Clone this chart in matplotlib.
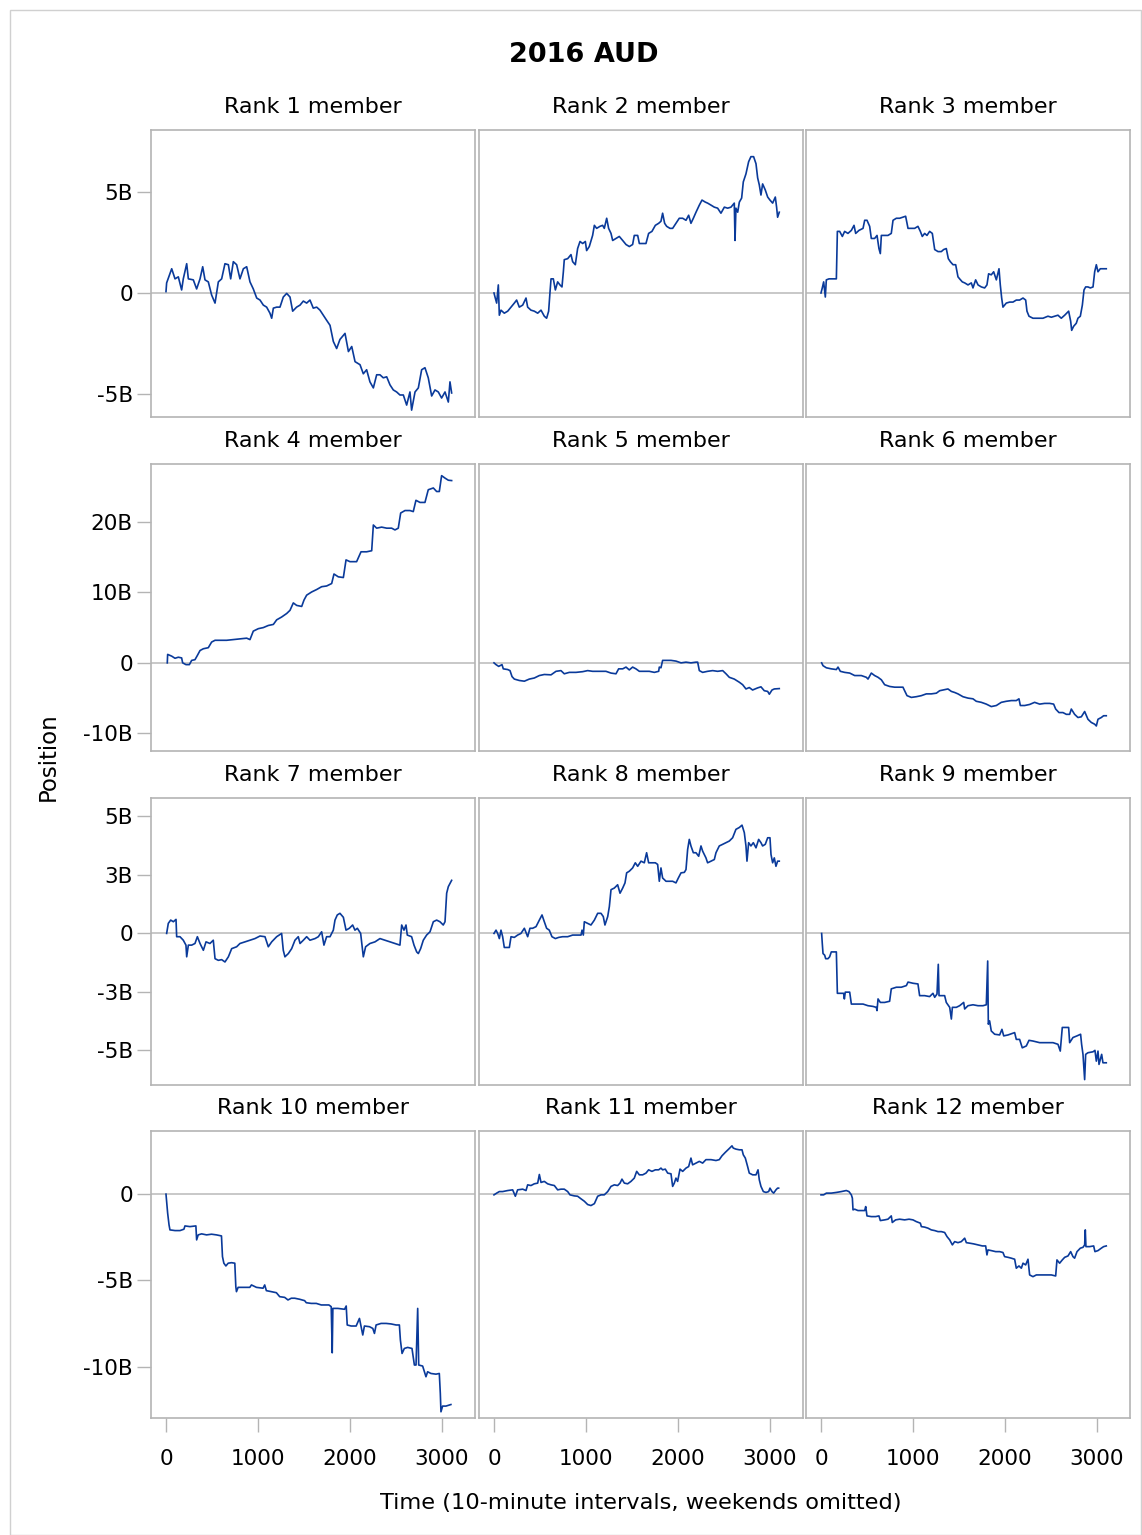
import matplotlib
matplotlib.use("Agg")
import matplotlib.pyplot as plt
from matplotlib.patches import Rectangle

plt.rcParams['font.family'] = ['DejaVu Sans']

title = "2016 AUD"
xlabel = "Time (10-minute intervals, weekends omitted)"
ylabel = "Position"
panel_titles = [f"Rank {i} member" for i in range(1, 13)]
x_ticks = [0, 1000, 2000, 3000]
x_tick_labels = ["0", "1000", "2000", "3000"]

row_yticks = [[-5, 0, 5], [-10, 0, 10, 20], [-5, -2.5, 0, 2.5, 5], [-10, -5, 0]]
row_ytick_labels = [["-5B", "0", "5B"], ["-10B", "0", "10B", "20B"],
                    ["-5B", "-3B", "0", "3B", "5B"], ["-10B", "-5B", "0"]]
row_ylims = [(-6.14, 8.07), (-12.5, 28.2), (-6.48, 5.79), (-12.97, 3.66)]
xlim = (-163, 3359)

# Positions in billions, time in 10-minute intervals
r1_t = [0, 7, 62, 98, 134, 170, 188, 225, 243, 297, 333, 370, 399, 424, 460, 496, 533, 569, 605, 641, 678, 703, 732, 768, 804, 841, 877, 913, 949, 986, 1022, 1058, 1094, 1130, 1149, 1167, 1203, 1239, 1275, 1312, 1348, 1377, 1420, 1457, 1493, 1529, 1565, 1601, 1638, 1674, 1710, 1746, 1783, 1819, 1855, 1891, 1946, 1983, 2019, 2055, 2109, 2145, 2181, 2217, 2254, 2290, 2326, 2362, 2399, 2435, 2471, 2507, 2543, 2580, 2616, 2652, 2670, 2707, 2743, 2779, 2815, 2851, 2888, 2924, 2960, 2996, 3033, 3069, 3087, 3105]
r1_v = [0.07, 0.5, 1.2, 0.7, 0.8, 0.15, 0.7, 1.45, 0.7, 0.65, 0.2, 0.7, 1.3, 0.65, 0.55, -0.1, -0.5, 0.55, 0.7, 1.45, 1.4, 0.7, 1.55, 1.4, 0.7, 1.2, 1.3, 0.55, 0.2, -0.25, -0.35, -0.6, -0.7, -1.0, -1.25, -0.75, -0.7, -0.7, -0.2, -0.02, -0.2, -0.9, -0.7, -0.6, -0.4, -0.5, -0.35, -0.75, -0.7, -0.85, -1.1, -1.35, -1.6, -2.4, -2.75, -2.3, -2.0, -2.9, -2.65, -3.4, -3.55, -4.0, -3.8, -4.4, -4.7, -4.05, -4.05, -4.2, -4.15, -4.55, -4.8, -4.9, -5.05, -5.05, -5.55, -4.9, -5.8, -4.9, -4.7, -3.8, -3.7, -4.2, -5.1, -4.8, -4.9, -5.2, -4.9, -5.4, -4.4, -4.95]

r2_t = [0, 14, 29, 47, 58, 76, 112, 149, 185, 221, 246, 275, 312, 348, 366, 402, 438, 475, 511, 547, 572, 594, 609, 620, 645, 667, 692, 717, 739, 754, 764, 801, 837, 855, 884, 909, 935, 964, 993, 1007, 1036, 1072, 1091, 1116, 1152, 1181, 1199, 1225, 1246, 1272, 1290, 1326, 1362, 1399, 1435, 1471, 1507, 1525, 1562, 1580, 1616, 1652, 1681, 1717, 1754, 1790, 1815, 1833, 1855, 1877, 1913, 1942, 1978, 2014, 2051, 2087, 2116, 2141, 2167, 2196, 2232, 2261, 2297, 2322, 2359, 2395, 2431, 2467, 2504, 2540, 2576, 2612, 2620, 2630, 2649, 2667, 2692, 2710, 2739, 2768, 2793, 2822, 2848, 2866, 2884, 2902, 2920, 2949, 2975, 3000, 3029, 3058, 3072, 3083, 3101]
r2_v = [0, -0.25, -0.5, 0.4, -1.1, -0.85, -1.0, -0.9, -0.7, -0.5, -0.35, -0.7, -0.6, -0.25, -0.7, -0.85, -0.9, -1.0, -0.85, -1.15, -1.25, -0.9, 0.05, 0.7, 0.7, 0.15, 0.55, 0.4, 0.3, 1.05, 1.65, 1.7, 1.9, 1.55, 1.4, 2.2, 2.55, 2.45, 2.55, 2.1, 2.3, 2.85, 3.35, 3.2, 3.3, 3.35, 3.2, 3.7, 3.2, 2.95, 2.6, 2.7, 2.8, 2.6, 2.4, 2.3, 2.4, 2.85, 2.85, 2.45, 2.45, 2.45, 2.95, 3.05, 3.35, 3.45, 3.55, 3.95, 3.45, 3.3, 3.2, 3.2, 3.45, 3.7, 3.7, 3.6, 3.85, 3.45, 3.7, 4.0, 4.35, 4.6, 4.5, 4.45, 4.35, 4.25, 4.2, 3.95, 4.25, 4.2, 4.25, 4.45, 2.6, 4.2, 4.0, 4.5, 4.7, 5.5, 5.9, 6.5, 6.75, 6.75, 6.4, 5.7, 5.35, 4.85, 5.4, 5.1, 4.75, 4.6, 4.45, 4.75, 4.25, 3.75, 4.0]

r3_t = [0, 14, 29, 47, 58, 87, 130, 167, 178, 203, 232, 257, 293, 330, 359, 377, 413, 457, 475, 500, 529, 547, 583, 609, 630, 645, 656, 692, 728, 764, 783, 819, 855, 920, 946, 982, 1018, 1054, 1080, 1101, 1127, 1152, 1181, 1210, 1236, 1272, 1308, 1333, 1362, 1384, 1406, 1435, 1464, 1489, 1507, 1536, 1562, 1598, 1634, 1652, 1681, 1707, 1743, 1779, 1804, 1822, 1851, 1877, 1906, 1935, 1949, 1964, 1978, 2014, 2051, 2087, 2123, 2159, 2196, 2225, 2239, 2261, 2304, 2359, 2413, 2467, 2504, 2540, 2576, 2612, 2649, 2692, 2714, 2725, 2746, 2775, 2793, 2819, 2841, 2859, 2877, 2902, 2928, 2957, 2975, 2993, 3011, 3036, 3065, 3101]
r3_v = [0, 0.25, 0.55, -0.2, 0.65, 0.7, 0.7, 0.7, 3.05, 3.05, 2.8, 3.05, 2.95, 3.1, 3.35, 2.95, 3.1, 3.2, 3.6, 3.6, 3.3, 2.7, 2.7, 2.85, 2.2, 1.95, 2.85, 2.85, 2.85, 2.95, 3.6, 3.7, 3.7, 3.8, 3.2, 3.2, 3.2, 3.3, 3.05, 2.8, 2.95, 2.85, 3.05, 2.95, 2.15, 2.05, 2.05, 2.15, 2.2, 1.7, 1.55, 1.4, 1.4, 0.8, 0.7, 0.55, 0.5, 0.4, 0.5, 0.25, 0.65, 0.4, 0.3, 0.25, 0.4, 0.95, 0.9, 1.05, 0.65, 1.2, 0.4, -0.25, -0.7, -0.5, -0.45, -0.45, -0.35, -0.35, -0.25, -0.35, -0.9, -1.15, -1.25, -1.25, -1.25, -1.15, -1.2, -1.15, -1.1, -1.25, -1.1, -0.9, -1.4, -1.85, -1.65, -1.5, -1.25, -1.15, -0.6, 0.15, 0.3, 0.3, 0.25, 0.3, 1.05, 1.4, 1.05, 1.2, 1.2, 1.2]

r4_t = [14, 18, 62, 98, 134, 170, 181, 217, 254, 279, 315, 341, 370, 406, 460, 496, 533, 587, 659, 732, 804, 877, 913, 949, 1004, 1058, 1112, 1167, 1203, 1257, 1312, 1348, 1384, 1420, 1475, 1500, 1529, 1583, 1638, 1692, 1746, 1801, 1826, 1873, 1928, 1957, 2000, 2072, 2120, 2181, 2236, 2254, 2290, 2344, 2399, 2453, 2489, 2525, 2551, 2598, 2652, 2688, 2717, 2761, 2815, 2851, 2906, 2942, 2971, 2996, 3033, 3069, 3105]
r4_v = [0, 1.2, 0.95, 0.65, 0.8, 0.7, 0, -0.25, -0.25, 0.35, 0.45, 1.05, 1.75, 2.0, 2.15, 2.95, 3.2, 3.2, 3.2, 3.3, 3.4, 3.5, 3.3, 4.5, 4.85, 5.0, 5.3, 5.45, 6.1, 6.5, 7.0, 7.45, 8.5, 8.15, 8.0, 8.9, 9.6, 10.05, 10.4, 10.8, 10.9, 11.25, 12.6, 12.2, 12.1, 14.6, 14.35, 14.35, 15.75, 15.75, 15.9, 19.55, 19.1, 19.25, 19.1, 19.1, 18.85, 19.1, 21.25, 21.6, 21.6, 21.45, 23.05, 22.75, 22.75, 24.55, 24.8, 24.3, 24.3, 26.55, 26.2, 25.9, 25.85]

r5_t = [0, 22, 51, 87, 101, 149, 174, 196, 221, 275, 330, 384, 438, 493, 547, 620, 674, 728, 764, 819, 891, 964, 1018, 1072, 1145, 1217, 1272, 1326, 1355, 1399, 1435, 1471, 1507, 1543, 1580, 1634, 1688, 1743, 1790, 1797, 1815, 1833, 1870, 1924, 1978, 2033, 2087, 2141, 2196, 2214, 2232, 2268, 2322, 2377, 2431, 2486, 2522, 2558, 2612, 2667, 2703, 2739, 2775, 2811, 2866, 2902, 2938, 2975, 2993, 3022, 3047, 3101]
r5_v = [0, -0.25, -0.5, -0.25, -0.85, -0.95, -1.1, -1.95, -2.3, -2.5, -2.6, -2.3, -2.15, -1.8, -1.65, -1.7, -1.2, -1.1, -1.55, -1.35, -1.35, -1.25, -1.1, -1.2, -1.2, -1.2, -1.45, -1.55, -0.85, -0.85, -0.6, -1.0, -0.6, -0.85, -1.2, -1.2, -1.2, -1.35, -1.2, -0.6, -0.7, 0.35, 0.35, 0.35, 0.25, 0, 0.1, 0, 0.1, 0.1, -1.1, -1.35, -1.2, -1.1, -1.2, -1.1, -1.55, -2.05, -2.3, -2.75, -3.1, -3.7, -3.5, -3.85, -3.55, -3.4, -3.95, -4.05, -4.45, -3.85, -3.7, -3.65]

r6_t = [7, 22, 58, 112, 167, 185, 210, 257, 312, 366, 402, 438, 493, 511, 547, 583, 620, 656, 692, 747, 801, 855, 891, 909, 935, 982, 1036, 1091, 1145, 1199, 1254, 1290, 1326, 1380, 1417, 1453, 1489, 1543, 1598, 1652, 1688, 1743, 1797, 1851, 1906, 1960, 2014, 2069, 2123, 2152, 2167, 2214, 2268, 2322, 2377, 2431, 2486, 2529, 2551, 2587, 2630, 2667, 2703, 2721, 2757, 2793, 2830, 2866, 2902, 2938, 2975, 2993, 3011, 3047, 3072, 3101]
r6_v = [0, -0.4, -0.7, -0.85, -0.95, -0.6, -1.2, -1.35, -1.45, -1.8, -1.8, -1.8, -2.05, -2.3, -1.45, -1.8, -2.05, -2.4, -3.1, -3.35, -3.45, -3.45, -3.45, -3.95, -4.65, -4.9, -4.8, -4.65, -4.4, -4.4, -4.3, -3.95, -3.85, -3.7, -4.05, -4.2, -4.4, -4.8, -5.0, -5.1, -5.45, -5.6, -5.85, -6.2, -6.05, -5.6, -5.45, -5.35, -5.35, -5.1, -6.05, -6.05, -5.9, -5.6, -5.85, -5.75, -5.75, -5.85, -6.55, -7.05, -7.05, -7.3, -7.3, -6.55, -7.3, -7.75, -7.65, -6.9, -8.0, -8.45, -8.7, -8.95, -8.0, -7.75, -7.5, -7.5]

r7_t = [7, 25, 51, 80, 109, 116, 152, 188, 217, 225, 243, 279, 315, 341, 370, 406, 435, 478, 514, 533, 569, 605, 641, 678, 714, 768, 804, 859, 913, 967, 1022, 1076, 1112, 1149, 1203, 1257, 1275, 1293, 1330, 1366, 1402, 1438, 1457, 1493, 1529, 1565, 1620, 1656, 1692, 1717, 1746, 1783, 1819, 1837, 1862, 1891, 1928, 1957, 1993, 2029, 2054, 2080, 2116, 2145, 2170, 2217, 2272, 2326, 2380, 2435, 2489, 2543, 2562, 2587, 2609, 2623, 2670, 2696, 2725, 2743, 2768, 2797, 2833, 2870, 2906, 2942, 2978, 3014, 3033, 3051, 3069, 3105]
r7_v = [0, 0.43, 0.57, 0.5, 0.6, -0.14, -0.14, -0.29, -0.5, -1.0, -0.5, -0.5, -0.43, -0.14, -0.43, -0.72, -0.36, -0.43, -0.29, -1.08, -1.15, -1.12, -1.22, -1.0, -0.65, -0.57, -0.43, -0.36, -0.29, -0.22, -0.11, -0.14, -0.57, -0.36, -0.14, 0, -0.72, -1.0, -0.86, -0.65, -0.29, -0.14, -0.43, -0.29, -0.14, -0.29, -0.22, -0.14, 0.07, -0.5, -0.14, -0.14, 0.14, 0.57, 0.79, 0.86, 0.69, 0.14, 0.22, 0.36, 0.14, 0.22, 0, -1.0, -0.57, -0.43, -0.36, -0.22, -0.29, -0.36, -0.43, -0.5, 0.36, 0.14, 0.36, -0.07, -0.14, -0.5, -0.79, -0.86, -0.65, -0.29, -0.07, 0.07, 0.5, 0.57, 0.5, 0.36, 0.5, 1.72, 2.0, 2.27]

r8_t = [0, 22, 40, 58, 76, 94, 112, 167, 185, 221, 257, 293, 330, 366, 391, 420, 457, 493, 522, 547, 572, 601, 630, 667, 703, 746, 801, 855, 909, 946, 957, 971, 982, 1018, 1054, 1091, 1127, 1163, 1188, 1206, 1236, 1254, 1272, 1308, 1344, 1370, 1399, 1424, 1442, 1471, 1507, 1536, 1562, 1598, 1634, 1659, 1681, 1717, 1754, 1779, 1797, 1815, 1833, 1870, 1906, 1942, 1978, 2004, 2033, 2069, 2087, 2105, 2123, 2141, 2167, 2196, 2225, 2250, 2268, 2304, 2322, 2359, 2395, 2413, 2449, 2486, 2522, 2558, 2594, 2630, 2667, 2696, 2721, 2739, 2750, 2768, 2793, 2819, 2848, 2877, 2902, 2920, 2949, 2975, 3000, 3011, 3029, 3047, 3065, 3083, 3101]
r8_v = [0, 0.14, 0, -0.22, 0.14, -0.14, -0.6, -0.6, -0.14, -0.17, -0.07, 0, 0.22, -0.14, 0.22, 0.22, 0.29, 0.57, 0.79, 0.5, 0.22, 0.14, -0.14, -0.22, -0.17, -0.14, -0.14, -0.07, -0.07, -0.07, 0.14, -0.07, 0.5, 0.43, 0.36, 0.57, 0.86, 0.86, 0.72, 0.36, 0.72, 1.15, 1.87, 1.94, 2.08, 1.72, 1.94, 2.16, 2.59, 2.66, 2.8, 3.02, 2.87, 3.09, 3.02, 3.45, 3.02, 3.02, 3.02, 2.95, 2.23, 2.8, 2.37, 2.23, 2.23, 2.23, 2.16, 2.37, 2.59, 2.61, 2.73, 3.59, 4.02, 3.74, 3.45, 3.45, 3.3, 3.74, 3.52, 3.23, 3.02, 3.09, 3.16, 3.45, 3.74, 3.81, 3.88, 3.95, 4.09, 4.45, 4.53, 4.63, 4.31, 3.74, 3.09, 3.88, 3.74, 3.88, 3.66, 4.02, 3.88, 3.74, 3.81, 4.09, 4.09, 3.38, 3.02, 3.23, 2.87, 3.09, 3.09]

r9_t = [7, 14, 22, 40, 51, 76, 94, 112, 167, 178, 221, 246, 254, 264, 312, 330, 384, 457, 511, 565, 601, 609, 620, 645, 692, 746, 764, 819, 873, 928, 946, 1000, 1054, 1072, 1127, 1181, 1217, 1236, 1261, 1275, 1283, 1344, 1362, 1399, 1417, 1428, 1471, 1507, 1551, 1562, 1598, 1652, 1707, 1761, 1797, 1812, 1819, 1833, 1851, 1888, 1942, 1967, 1986, 2033, 2105, 2123, 2159, 2188, 2232, 2261, 2304, 2377, 2449, 2522, 2576, 2601, 2623, 2667, 2692, 2703, 2739, 2783, 2822, 2833, 2848, 2866, 2877, 2902, 2957, 2978, 2993, 3011, 3022, 3036, 3051, 3065, 3101]
r9_v = [0, -0.43, -0.86, -0.93, -1.08, -1.08, -1.0, -0.79, -0.79, -2.56, -2.56, -2.56, -2.8, -2.51, -2.51, -3.02, -3.02, -3.02, -3.09, -3.12, -3.16, -3.3, -2.8, -2.95, -2.95, -2.9, -2.37, -2.3, -2.3, -2.23, -2.08, -2.13, -2.16, -2.66, -2.66, -2.7, -2.56, -2.73, -2.59, -1.32, -2.66, -2.66, -2.95, -3.16, -3.66, -3.16, -3.16, -3.09, -2.95, -3.23, -3.09, -3.05, -3.09, -3.09, -3.05, -1.18, -3.88, -3.74, -4.17, -4.31, -4.34, -4.1, -4.38, -4.34, -4.24, -4.53, -4.53, -4.89, -4.81, -4.57, -4.6, -4.67, -4.67, -4.67, -4.74, -5.03, -4.02, -4.02, -4.02, -4.67, -4.45, -4.38, -4.31, -4.74, -5.17, -6.25, -5.17, -5.1, -5.06, -5.0, -5.46, -5.03, -5.6, -5.39, -5.17, -5.53, -5.53]

r10_t = [0, 7, 18, 33, 43, 98, 152, 195, 206, 260, 325, 333, 350, 387, 441, 495, 549, 603, 614, 629, 651, 676, 712, 748, 759, 766, 784, 839, 911, 929, 983, 1055, 1073, 1091, 1146, 1200, 1236, 1290, 1326, 1362, 1399, 1453, 1507, 1525, 1579, 1634, 1688, 1724, 1771, 1796, 1807, 1814, 1868, 1941, 1959, 1970, 2013, 2067, 2103, 2121, 2139, 2157, 2212, 2248, 2266, 2284, 2338, 2393, 2447, 2501, 2537, 2548, 2566, 2591, 2627, 2674, 2700, 2718, 2736, 2747, 2790, 2826, 2844, 2880, 2935, 2971, 2982, 2989, 3007, 3043, 3097]
r10_v = [0, -0.43, -1.1, -1.78, -2.07, -2.11, -2.11, -2.03, -1.84, -1.88, -1.84, -2.65, -2.36, -2.3, -2.36, -2.32, -2.36, -2.42, -3.62, -4.0, -4.16, -4.0, -3.97, -4.0, -5.36, -5.65, -5.4, -5.4, -5.4, -5.26, -5.4, -5.45, -5.26, -5.59, -5.65, -5.71, -5.94, -5.98, -6.13, -6.03, -6.03, -6.09, -6.17, -6.29, -6.33, -6.33, -6.42, -6.42, -6.42, -6.52, -9.19, -6.62, -6.62, -6.67, -6.48, -7.58, -7.64, -7.64, -7.2, -7.68, -8.16, -7.64, -7.68, -7.78, -8.07, -7.58, -7.49, -7.49, -7.52, -7.58, -7.58, -8.45, -9.23, -8.94, -8.88, -8.94, -9.9, -9.9, -6.62, -9.9, -9.96, -10.58, -10.29, -10.39, -10.43, -10.39, -11.55, -12.61, -12.28, -12.28, -12.19]

r11_t = [0, 29, 58, 94, 149, 203, 232, 257, 312, 348, 366, 402, 438, 475, 493, 511, 547, 583, 620, 656, 692, 728, 764, 801, 826, 873, 909, 946, 982, 1018, 1054, 1091, 1127, 1163, 1199, 1236, 1272, 1308, 1344, 1370, 1391, 1417, 1453, 1489, 1525, 1551, 1580, 1616, 1652, 1681, 1717, 1754, 1790, 1815, 1833, 1862, 1888, 1924, 1942, 1960, 1978, 1996, 2022, 2051, 2087, 2116, 2141, 2159, 2196, 2232, 2268, 2304, 2359, 2413, 2449, 2478, 2514, 2551, 2587, 2601, 2630, 2667, 2696, 2710, 2732, 2757, 2775, 2812, 2848, 2870, 2884, 2902, 2928, 2957, 2986, 3000, 3022, 3040, 3065, 3083, 3094]
r11_v = [-0.04, 0.06, 0.15, 0.15, 0.21, 0.25, -0.12, 0.25, 0.29, 0.21, 0.54, 0.5, 0.6, 0.64, 1.14, 0.68, 0.74, 0.6, 0.54, 0.5, 0.25, 0.29, 0.29, 0.15, -0.04, -0.1, -0.12, -0.27, -0.41, -0.6, -0.66, -0.55, -0.12, -0.04, -0.04, 0.15, 0.45, 0.54, 0.5, 0.64, 0.87, 0.64, 0.6, 0.74, 0.93, 1.32, 1.12, 1.12, 1.22, 1.41, 1.32, 1.41, 1.41, 1.51, 1.41, 1.45, 1.22, 1.18, 0.45, 0.64, 0.93, 0.74, 1.45, 1.32, 1.51, 1.6, 2.09, 1.7, 1.8, 1.9, 1.8, 2.0, 2.0, 1.95, 2.0, 2.22, 2.42, 2.61, 2.8, 2.67, 2.61, 2.57, 2.57, 2.28, 2.09, 1.6, 1.22, 1.12, 1.12, 1.41, 0.83, 0.45, 0.15, 0.1, 0.15, 0.35, 0.15, 0.06, 0.25, 0.35, 0.35]

r12_t = [0, 29, 58, 112, 167, 221, 275, 304, 330, 341, 348, 366, 402, 438, 475, 486, 500, 547, 594, 630, 645, 692, 728, 764, 775, 811, 855, 909, 957, 1000, 1036, 1080, 1091, 1127, 1163, 1199, 1236, 1272, 1308, 1344, 1370, 1399, 1428, 1453, 1489, 1525, 1562, 1580, 1616, 1659, 1707, 1754, 1790, 1804, 1815, 1851, 1899, 1942, 1978, 1996, 2033, 2069, 2105, 2123, 2152, 2178, 2196, 2225, 2250, 2268, 2304, 2341, 2395, 2449, 2504, 2551, 2565, 2594, 2623, 2649, 2685, 2714, 2739, 2757, 2783, 2819, 2848, 2866, 2873, 2880, 2920, 2964, 2978, 3011, 3047, 3072, 3101]
r12_v = [-0.04, -0.04, 0.06, 0.06, 0.1, 0.15, 0.21, 0.15, -0.04, -0.23, -0.91, -0.87, -0.95, -0.95, -0.95, -0.72, -1.26, -1.3, -1.3, -1.26, -1.53, -1.49, -1.45, -1.26, -1.64, -1.49, -1.45, -1.49, -1.45, -1.49, -1.59, -1.68, -1.88, -1.91, -1.97, -2.07, -2.11, -2.17, -2.17, -2.22, -2.46, -2.65, -2.94, -2.75, -2.81, -2.75, -2.55, -2.81, -2.84, -2.88, -2.94, -3.0, -3.0, -3.52, -3.23, -3.27, -3.33, -3.33, -3.38, -3.62, -3.66, -3.71, -3.77, -4.29, -4.16, -4.29, -4.0, -4.1, -3.77, -4.68, -4.78, -4.68, -4.68, -4.68, -4.68, -4.74, -3.81, -4.0, -3.81, -3.66, -3.58, -3.33, -3.62, -3.71, -3.33, -3.13, -3.08, -2.94, -2.07, -3.04, -3.04, -3.0, -3.33, -3.27, -3.13, -3.04, -3.0]

series_t = [r1_t, r2_t, r3_t, r4_t, r5_t, r6_t, r7_t, r8_t, r9_t, r10_t, r11_t, r12_t]
series_v = [r1_v, r2_v, r3_v, r4_v, r5_v, r6_v, r7_v, r8_v, r9_v, r10_v, r11_v, r12_v]

W, H = 1142, 1535
fig = plt.figure(figsize=(W / 100, H / 100), dpi=100)
fig.patches.append(Rectangle((10 / W, 0), 1 - 11 / W, 1 - 10 / H, transform=fig.transFigure,
                             fill=False, edgecolor='#d0d0d0', linewidth=1))

col_left = [151, 479, 806]
col_w = 324
row_top = [130, 464, 798, 1131]
row_h = 287
line_color = '#0a3a9a'
frame_color = '#b4b4b4'
ref_color = '#c4c4c4'

for i in range(12):
    r, c = divmod(i, 3)
    ax = fig.add_axes([col_left[c] / W, 1 - (row_top[r] + row_h) / H, col_w / W, row_h / H])
    ax.axhline(0, color=ref_color, lw=1.3, zorder=1)
    ax.plot(series_t[i], series_v[i], color=line_color, lw=1.2, zorder=2)
    ax.set_xlim(*xlim)
    ax.set_ylim(*row_ylims[r])
    for s in ax.spines.values():
        s.set_color(frame_color)
        s.set_linewidth(1.2)
    ax.set_title(panel_titles[i], fontsize=16, pad=12)
    ax.tick_params(axis='y', colors=frame_color, labelcolor='black', length=10,
                   width=1.0, labelsize=15.5, pad=3)
    ax.tick_params(axis='x', colors=frame_color, labelcolor='black', length=10,
                   width=1.0, labelsize=15.5, pad=12)
    if r == 3:
        ax.set_xticks(x_ticks)
        ax.set_xticklabels(x_tick_labels)
    else:
        ax.set_xticks([])
    if c == 0:
        ax.set_yticks(row_yticks[r])
        ax.set_yticklabels(row_ytick_labels[r])
    else:
        ax.set_yticks([])

fig.text(584 / W, 1 - 55 / H, title, ha='center', va='center', fontsize=19.5, fontweight='bold')
fig.text(641 / W, 1 - 1503 / H, xlabel, ha='center', va='center', fontsize=16.2)
fig.text(48 / W, 1 - 757 / H, ylabel, ha='center', va='center', fontsize=16.5, rotation=90)

fig.savefig("out.png", dpi=100)
